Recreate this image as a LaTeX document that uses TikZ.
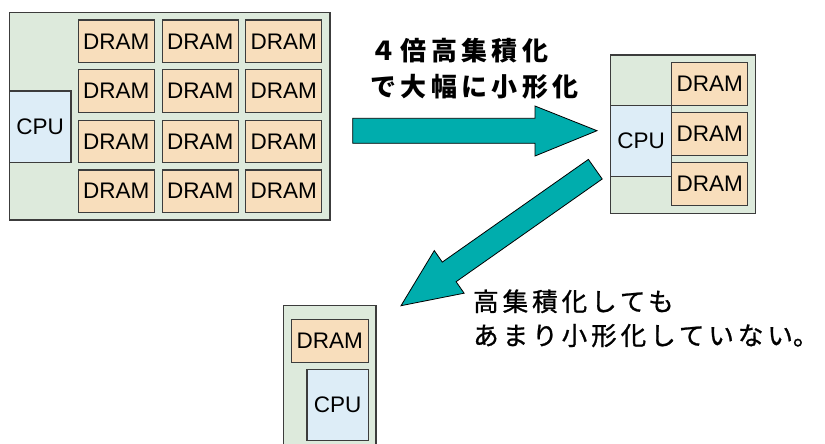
\documentclass[tikz,border=0pt]{standalone}
\usepackage{fontspec}
\setmainfont{Liberation Sans}
\newfontfamily\jp{Noto Sans CJK JP}[LetterSpace=17]
\newfontfamily\jpm{Noto Sans CJK JP}[LetterSpace=15.7, FakeBold=1]
\newfontfamily\jpmn{Noto Sans CJK JP}[FakeBold=1]
\definecolor{boardc}{HTML}{DDEADC}
\definecolor{cpuc}{HTML}{DDEDF7}
\definecolor{dramc}{HTML}{F8DEBC}
\definecolor{arrowc}{HTML}{00ADAD}
\definecolor{edgec}{HTML}{3C3C3C}
\tikzset{
  base box/.style={rectangle, draw=edgec, line width=1.1pt, inner sep=0pt, outer sep=0pt},
  board/.style={base box, fill=boardc},
  dram/.style={base box, fill=dramc, minimum width=76pt, minimum height=42.5pt,
    font=\fontsize{22.5pt}{26pt}\selectfont},
  cpu/.style={base box, fill=cpuc, font=\fontsize{22.5pt}{26pt}\selectfont},
  blockarrow/.style={draw=black, line width=0.8pt, fill=arrowc, line join=miter},
  jptext/.style={anchor=base west, inner sep=0pt},
}
\begin{document}
\begin{tikzpicture}[x=1pt,y=-1pt]
\clip (0,0) rectangle (825,444);
\fill[white] (0,0) rectangle (825,444);

% ---- large board ----
\node[board, minimum width=320.7pt, minimum height=207.3pt] (b1) at (169.65,116.35) {};
\node[cpu, minimum width=61.7pt, minimum height=71.7pt] (c1) at (40.15,126.85) {CPU};
\foreach \r/\y in {1/41.3,2/91.2,3/141.3,4/191.2}{
  \foreach \c/\x in {1/116.3,2/200.3,3/283.8}{
    \node[dram] (d\r\c) at (\x,\y) {DRAM};
  }
}

% ---- small board (top right) ----
\node[board, minimum width=145pt, minimum height=158.3pt] (b2) at (683.2,134.15) {};
\node[cpu, minimum width=61pt, minimum height=71pt] (c2) at (641.2,141.2) {CPU};
\node[dram] (e1) at (709.7,83.9) {DRAM};
\node[dram] (e2) at (709.7,133.9) {DRAM};
\node[dram, minimum height=43pt] (e3) at (709.7,184.2) {DRAM};

% ---- bottom board ----
\node[board, minimum width=92.5pt, minimum height=160pt] (b3) at (329.75,385.3) {};
\node[dram, minimum width=76.9pt, minimum height=42.6pt] (f1) at (329.75,341) {DRAM};
\node[cpu, minimum width=61.2pt, minimum height=71pt] (c3) at (337.6,405.2) {CPU};

% ---- arrows ----
\draw[blockarrow] (352.7,118.3) -- (535,118.3) -- (535,106) -- (597,130.7)
  -- (535,156) -- (535,143.3) -- (352.7,143.3) -- cycle;
\draw[blockarrow] (602.2,179.0) -- (588.4,159.4) -- (442.3,262.1) -- (434.3,250.6)
  -- (401,305.7) -- (464.1,293.2) -- (456.1,281.7) -- cycle;

% ---- texts ----
\node[jptext, font=\jp\bfseries\fontsize{26pt}{32pt}\selectfont] (t1) at (370,61) {４倍高集積化};
\node[jptext, font=\jp\bfseries\fontsize{26pt}{32pt}\selectfont] (t2) at (370,96) {で大幅に小形化};
\node[jptext, font=\jpm\fontsize{25.5pt}{32pt}\selectfont] (t3) at (473,311) {高集積化しても};
\node[jptext, font=\jpm\fontsize{25.5pt}{32pt}\selectfont] (t4) at (473,345) {あまり小形化していない{\jpmn 。}};
\end{tikzpicture}
\end{document}
